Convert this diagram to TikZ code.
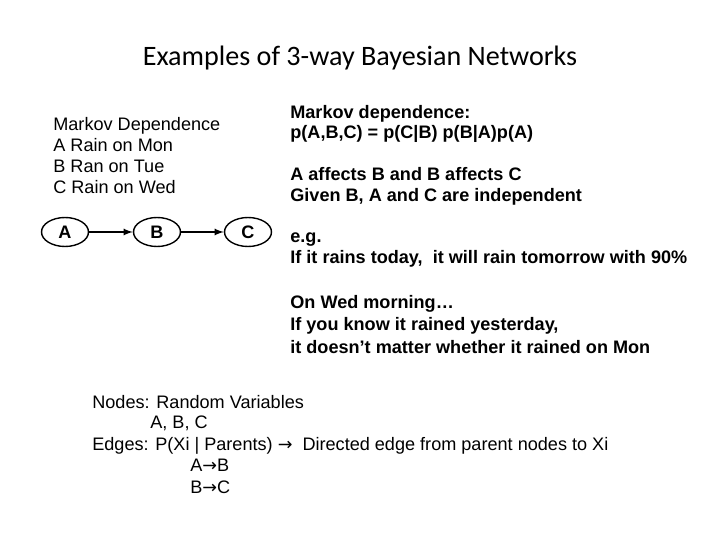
\documentclass[tikz,border=0pt]{standalone}
\usepackage{fontspec}
\setmainfont{Liberation Sans}
\newfontfamily\titlefont{Carlito}
\newfontfamily\symfont{DejaVu Sans}
\usetikzlibrary{shapes.geometric}
\newcommand{\ra}{{\symfont\fontsize{10}{10}\selectfont→}}
\begin{document}
\begin{tikzpicture}[x=0.02cm,y=-0.02cm,
	txt/.style={anchor=north west,align=left,inner sep=0pt,font=\fontsize{10.3}{12}\selectfont},
	bn/.style={draw,thick,ellipse,minimum width=0.94cm,minimum height=0.58cm,inner sep=0pt,font=\bfseries\fontsize{10.3}{10}\selectfont},
	edge/.style={->,>=latex,thick}]
	\useasboundingbox (0,0) rectangle (720,540);
	\node (title) at (360,58) {\titlefont\fontsize{16}{18}\selectfont Examples of 3-way Bayesian Networks};
	% left text
	\node[txt] (desc) at (53,117) {Markov Dependence\\A Rain on Mon\\B Ran on Tue\\C Rain on Wed};
	% network
	\node[bn] (a) at (65,232) {A};
	\node[bn] (b) at (157,232) {B};
	\node[bn] (c) at (248,232) {C};
	\draw[edge] (a) -- (b);
	\draw[edge] (b) -- (c);
	% right text
	\node[txt,font=\bfseries\fontsize{10.3}{11.5}\selectfont] (mk) at (290,105) {Markov dependence:\\p(A,B,C) = p(C|B) p(B|A)p(A)};
	\node[txt,font=\bfseries\fontsize{10.3}{11.8}\selectfont] (aff) at (290,167) {A affects B and B affects C\\Given B, A and C are independent};
	\node[txt,font=\bfseries\fontsize{10.3}{12.3}\selectfont] (eg) at (290,232) {e.g.\\If it rains today,\ \ it will rain tomorrow with 90\%};
	\node[txt,font=\bfseries\fontsize{10.3}{12.8}\selectfont] (wed) at (290,295) {On Wed morning\dots\\If you know it rained yesterday,\\it doesn’t matter whether it rained on Mon};
	% bottom text
	\node[txt] (nodes) at (92,395) {Nodes: Random Variables};
	\node[txt] (abc) at (150,416) {A, B, C};
	\node[txt] (edges) at (92,437) {Edges: P(Xi | Parents) \ra\ \ Directed edge from parent nodes to Xi};
	\node[txt] (ab) at (190,459) {A\ra B};
	\node[txt] (bc) at (190,481) {B\ra C};
\end{tikzpicture}
\end{document}
